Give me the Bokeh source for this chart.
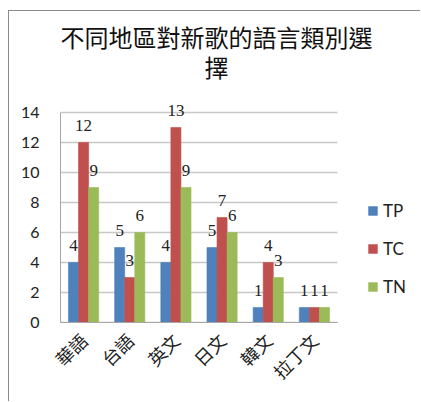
from bokeh.plotting import figure
from bokeh.models import ColumnDataSource, Legend, LegendItem, LabelSet, Label, Range1d, FixedTicker
from bokeh.embed import file_html
from bokeh.resources import INLINE
from math import pi

# Survey data: preferred language of new songs by region
categories = ["華語", "台語", "英文", "日文", "韓文", "拉丁文"]
tp = [4, 5, 4, 5, 1, 1]
tc = [12, 3, 13, 7, 4, 1]
tn = [9, 6, 9, 6, 3, 1]
series_names = ["TP", "TC", "TN"]
y_ticks = [0, 2, 4, 6, 8, 10, 12, 14]
title_lines = ["不同地區對新歌的語言類別選", "擇"]

colors = ["#4F81BD", "#C0504D", "#9BBB59"]
bar_w = 0.218
offsets = [-bar_w, 0.0, bar_w]
n = len(categories)
centers = [i + 0.5 for i in range(n)]

data = dict(x=centers, TP=tp, TC=tc, TN=tn)
for name, off in zip(series_names, offsets):
    data[name + "_x"] = [c + off for c in centers]
    data[name + "_t"] = [str(v) for v in data[name]]
source = ColumnDataSource(data=data)

# the frame runs to the right and top edges so title and legend sit inside it;
# 15 px per unit vertically, ~46 px per category horizontally
p = figure(x_range=Range1d(0, 7.82), y_range=Range1d(0, 20.73),
           width=412, height=391, output_backend="svg", toolbar_location=None,
           min_border_left=51, min_border_right=0, min_border_top=0, min_border_bottom=80)
p.styles = {"margin-left": "8px", "margin-top": "10px",
            "border-left": "1px solid #8a8a8a", "border-top": "1px solid #8a8a8a"}
p.title = None
p.outline_line_color = None
p.background_fill_color = "white"
p.border_fill_color = "white"
p.xgrid.grid_line_color = None
p.ygrid.grid_line_color = None

num_font = "Lato"
cjk_font = "Noto Sans CJK TC"

# horizontal gridlines across the category span
p.segment(x0=[0] * len(y_ticks), x1=[n] * len(y_ticks), y0=y_ticks, y1=y_ticks,
          line_color="#c8c8c8", line_width=1.5)

items = []
for name, col in zip(series_names, colors):
    r = p.vbar(x=name + "_x", top=name, width=bar_w, source=source,
               fill_color=col, line_color=col, line_alpha=0.6)
    items.append(LegendItem(label=name, renderers=[r]))
    p.add_layout(LabelSet(x=name + "_x", y=name, text=name + "_t", source=source,
                          text_align="center", text_baseline="alphabetic",
                          y_offset=11, text_font=num_font, text_font_size="17px",
                          text_color="#222222"))

# axes
p.yaxis.ticker = FixedTicker(ticks=y_ticks)
p.yaxis.bounds = (0, 14)
p.yaxis.major_tick_line_color = None
p.yaxis.minor_tick_line_color = None
p.yaxis.axis_line_color = "#a6a6a6"
p.yaxis.major_label_standoff = 15
p.yaxis.major_label_text_font = num_font
p.yaxis.major_label_text_font_size = "16px"
p.yaxis.major_label_text_color = "#222222"

p.xaxis.ticker = FixedTicker(ticks=centers)
p.xaxis.major_label_overrides = {c: lab for c, lab in zip(centers, categories)}
p.xaxis.bounds = (0, n)
p.xaxis.major_tick_line_color = None
p.xaxis.minor_tick_line_color = None
p.xaxis.axis_line_color = "#a6a6a6"
p.xaxis.major_label_orientation = pi / 4
p.xaxis.major_label_standoff = 8
p.xaxis.major_label_text_font = cjk_font
p.xaxis.major_label_text_font_size = "18px"
p.xaxis.major_label_text_color = "#222222"

# legend to the right of the bars
legend = Legend(items=items, location=(307, 25), orientation="vertical",
                glyph_width=11, glyph_height=11, label_height=20, spacing=17,
                padding=0, margin=0, label_standoff=5,
                label_text_font=num_font, label_text_font_size="17px",
                label_text_color="#222222", border_line_color=None,
                background_fill_alpha=0)
p.add_layout(legend, "center")

# two-line title
for i, line in enumerate(title_lines):
    p.add_layout(Label(x=156, y=286 - i * 30, x_units="screen", y_units="screen",
                       text=line, text_align="center", text_baseline="middle",
                       text_font=cjk_font, text_font_size="24px", text_color="#111111"))

open("out.html", "w").write(file_html(p, INLINE))
